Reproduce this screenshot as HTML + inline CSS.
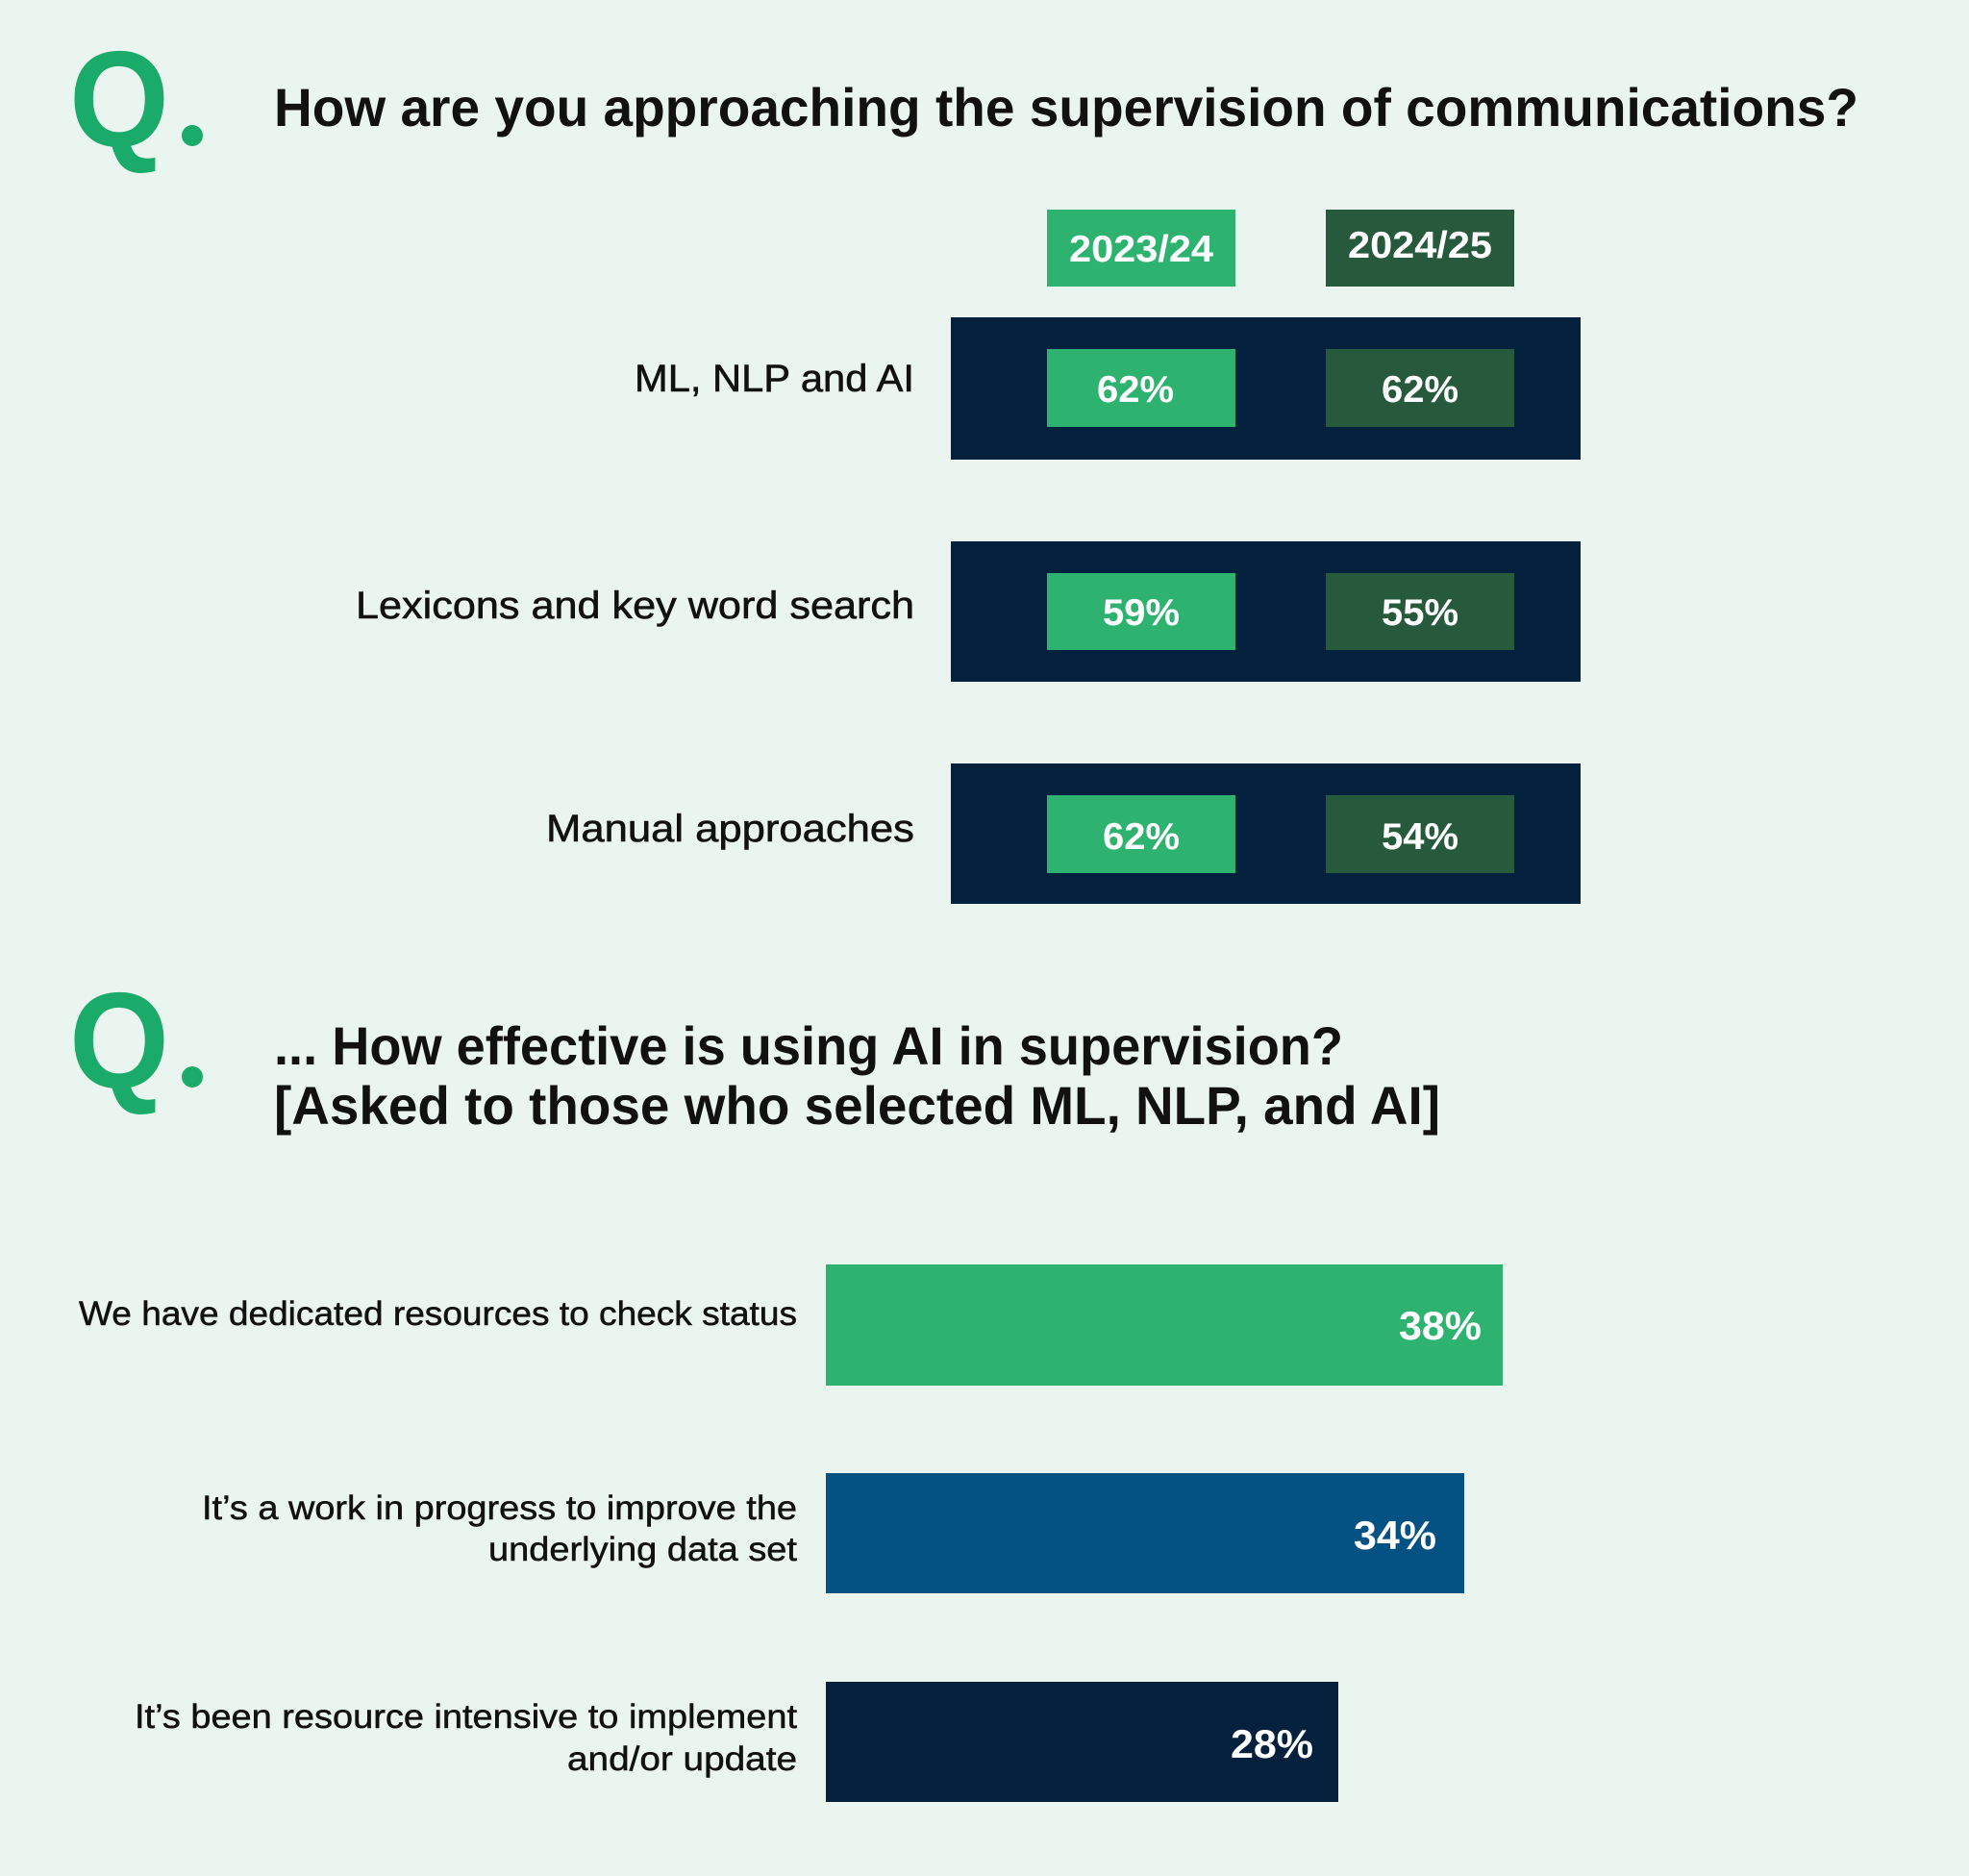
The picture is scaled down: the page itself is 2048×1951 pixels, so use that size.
<!DOCTYPE html>
<html><head><meta charset="utf-8"><style>
html,body{margin:0;padding:0;background:#ebf5ef;}
svg{display:block}
text{font-family:"Liberation Sans",sans-serif;}
</style></head><body>
<svg width="2048" height="1951" viewBox="0 0 2048 1951" xmlns="http://www.w3.org/2000/svg">
<rect width="2048" height="1951" fill="#ebf5ef"/>
<!-- Q1 -->
<text x="72" y="152" font-size="142" font-weight="bold" fill="#1aaa6a" textLength="104" lengthAdjust="spacingAndGlyphs">Q</text>
<circle cx="200" cy="141" r="11" fill="#1aaa6a"/>
<text x="285" y="131" font-size="56" font-weight="bold" fill="#111" textLength="1648" lengthAdjust="spacingAndGlyphs">How are you approaching the supervision of communications?</text>
<!-- legend -->
<rect x="1089" y="218" width="196" height="80" fill="#2db36f"/>
<rect x="1379" y="218" width="196" height="80" fill="#275a3d"/>
<text x="1187" y="272" font-size="39" font-weight="bold" fill="#fff" text-anchor="middle" textLength="150" lengthAdjust="spacingAndGlyphs">2023/24</text>
<text x="1477" y="268" font-size="39" font-weight="bold" fill="#fff" text-anchor="middle" textLength="150" lengthAdjust="spacingAndGlyphs">2024/25</text>
<!-- rows -->
<rect x="989" y="330" width="655" height="148" fill="#03203d"/>
<rect x="989" y="563" width="655" height="146" fill="#03203d"/>
<rect x="989" y="794" width="655" height="146" fill="#03203d"/>
<rect x="1089" y="363" width="196" height="81" fill="#2db36f"/>
<rect x="1379" y="363" width="196" height="81" fill="#275a3d"/>
<rect x="1089" y="596" width="196" height="80" fill="#2db36f"/>
<rect x="1379" y="596" width="196" height="80" fill="#275a3d"/>
<rect x="1089" y="827" width="196" height="81" fill="#2db36f"/>
<rect x="1379" y="827" width="196" height="81" fill="#275a3d"/>
<g font-size="39" font-weight="bold" fill="#fff" text-anchor="middle">
<text x="1181" y="418" textLength="80" lengthAdjust="spacingAndGlyphs">62%</text>
<text x="1477" y="418" textLength="80" lengthAdjust="spacingAndGlyphs">62%</text>
<text x="1187" y="650" textLength="80" lengthAdjust="spacingAndGlyphs">59%</text>
<text x="1477" y="650" textLength="80" lengthAdjust="spacingAndGlyphs">55%</text>
<text x="1187" y="883" textLength="80" lengthAdjust="spacingAndGlyphs">62%</text>
<text x="1477" y="883" textLength="80" lengthAdjust="spacingAndGlyphs">54%</text>
</g>
<g font-size="40" fill="#111" text-anchor="end" stroke="#111" stroke-width="0.6">
<text x="951" y="407" textLength="291" lengthAdjust="spacingAndGlyphs">ML, NLP and AI</text>
<text x="951" y="643" textLength="581" lengthAdjust="spacingAndGlyphs">Lexicons and key word search</text>
<text x="951" y="875" textLength="383" lengthAdjust="spacingAndGlyphs">Manual approaches</text>
</g>
<!-- Q2 -->
<text x="72" y="1131" font-size="142" font-weight="bold" fill="#1aaa6a" textLength="104" lengthAdjust="spacingAndGlyphs">Q</text>
<circle cx="200" cy="1120" r="11" fill="#1aaa6a"/>
<text x="285" y="1107" font-size="56" font-weight="bold" fill="#111" textLength="1112" lengthAdjust="spacingAndGlyphs">... How effective is using AI in supervision?</text>
<text x="285" y="1169" font-size="56" font-weight="bold" fill="#111" textLength="1213" lengthAdjust="spacingAndGlyphs">[Asked to those who selected ML, NLP, and AI]</text>
<!-- bars -->
<rect x="859" y="1315" width="704" height="126" fill="#2db36f"/>
<rect x="859" y="1532" width="664" height="125" fill="#045283"/>
<rect x="859" y="1749" width="533" height="125" fill="#03203d"/>
<g font-size="42" font-weight="bold" fill="#fff" text-anchor="end">
<text x="1541" y="1393" textLength="86" lengthAdjust="spacingAndGlyphs">38%</text>
<text x="1494" y="1611" textLength="86" lengthAdjust="spacingAndGlyphs">34%</text>
<text x="1366" y="1828" textLength="86" lengthAdjust="spacingAndGlyphs">28%</text>
</g>
<g font-size="35" fill="#111" text-anchor="end" stroke="#111" stroke-width="0.5">
<text x="829" y="1378" textLength="747" lengthAdjust="spacingAndGlyphs">We have dedicated resources to check status</text>
<text x="829" y="1580" textLength="619" lengthAdjust="spacingAndGlyphs">It’s a work in progress to improve the</text>
<text x="829" y="1623" textLength="321" lengthAdjust="spacingAndGlyphs">underlying data set</text>
<text x="829" y="1797" textLength="689" lengthAdjust="spacingAndGlyphs">It’s been resource intensive to implement</text>
<text x="829" y="1841" textLength="239" lengthAdjust="spacingAndGlyphs">and/or update</text>
</g>
</svg>
</body></html>
